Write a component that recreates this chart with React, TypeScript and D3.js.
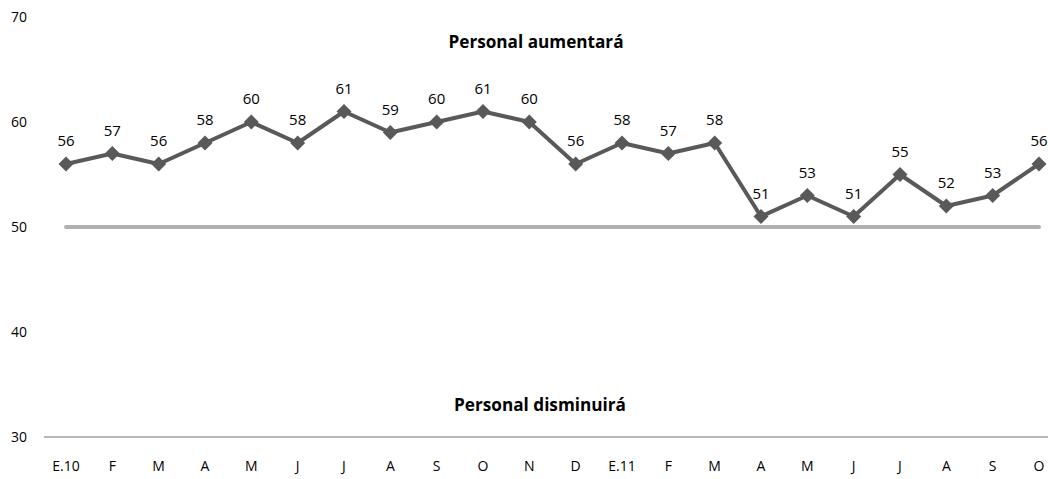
import React from "react";
import * as d3 from "d3";

const categories = ["E.10","F","M","A","M","J","J","A","S","O","N","D","E.11","F","M","A","M","J","J","A","S","O"];
const values = [56,57,56,58,60,58,61,59,60,61,60,56,58,57,58,51,53,51,55,52,53,56];
const yTicks = [30,40,50,60,70];
const baselineValue = 50;
const topLabel = "Personal aumentará";
const bottomLabel = "Personal disminuirá";

export default function App() {
  const W = 1048, H = 479;
  const x = d3.scalePoint<number>().domain(d3.range(categories.length)).range([66, 1039]);
  const y = d3.scaleLinear().domain([30, 70]).range([437, 17]);
  const line = d3.line<number>().x((_, i) => x(i)!).y(d => y(d));
  const font = "'Open Sans', 'Noto Sans', sans-serif";
  const dm = 7.5;
  const diamond = `M0,${-dm}L${dm},0L0,${dm}L${-dm},0Z`;
  return (
    <svg width={W} height={H} style={{ position: "absolute", left: 0, top: 0 }} fontFamily={font}>
      <rect width={W} height={H} fill="#fff" />
      {yTicks.map(t => (
        <text key={t} x={27} y={y(t)} dy="0.35em" textAnchor="end" fontSize={14} fill="#000">{t}</text>
      ))}
      <line x1={44} x2={1048} y1={y(30)} y2={y(30)} stroke="#a0a0a0" strokeWidth={1.5} />
      {categories.map((c, i) => (
        <text key={i} x={x(i)} y={466} dy="0.35em" textAnchor="middle" fontSize={14} fill="#000">{c}</text>
      ))}
      <line x1={x(0)} x2={x(categories.length - 1)} y1={y(baselineValue)} y2={y(baselineValue)} stroke="#b0b0b0" strokeWidth={4} strokeLinecap="round" />
      <path d={line(values)!} fill="none" stroke="#595959" strokeWidth={4} strokeLinejoin="round" />
      {values.map((v, i) => (
        <path key={i} d={diamond} transform={`translate(${x(i)},${y(v)})`} fill="#595959" />
      ))}
      {values.map((v, i) => (
        <text key={i} x={x(i)} y={y(v) - 23} dy="0.35em" textAnchor="middle" fontSize={15} fill="#000">{v}</text>
      ))}
      <text x={536} y={42} dy="0.35em" textAnchor="middle" fontSize={17} fontWeight="bold" fill="#000" textLength={175} lengthAdjust="spacingAndGlyphs">{topLabel}</text>
      <text x={540} y={405} dy="0.35em" textAnchor="middle" fontSize={17} fontWeight="bold" fill="#000" textLength={172} lengthAdjust="spacingAndGlyphs">{bottomLabel}</text>
    </svg>
  );
}
